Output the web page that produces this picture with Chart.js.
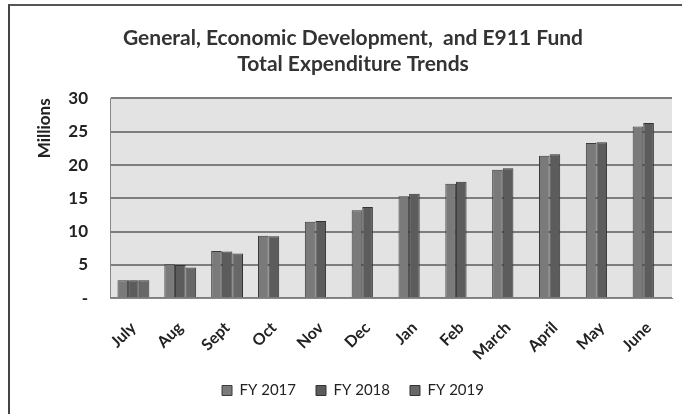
<!DOCTYPE html>
<html>
<head>
<meta charset="utf-8">
<script src="https://cdn.jsdelivr.net/npm/chart.js@4"></script>
<style>
    html, body { margin: 0; padding: 0; background: #fff; }
    #frame {
        position: absolute; left: 8px; top: 4px; width: 682px; height: 420px;
        border-left: 2px solid #444; border-top: 2px solid #555;
        box-sizing: border-box;
    }
    #wrap { position: absolute; left: 0; top: 0; width: 682px; height: 414px; }
</style>
</head>
<body>
<div id="frame"></div>
<div id="wrap"><canvas id="expChart"></canvas></div>
<script>
    // months and cumulative expenditure (millions)
    const months = ['July', 'Aug', 'Sept', 'Oct', 'Nov', 'Dec', 'Jan', 'Feb', 'March', 'April', 'May', 'June'];
    const fy2017 = [2.7, 5.1, 7.1, 9.4, 11.5, 13.2, 15.3, 17.2, 19.3, 21.4, 23.3, 25.8];
    const fy2018 = [2.7, 5.0, 7.0, 9.3, 11.6, 13.7, 15.7, 17.5, 19.5, 21.6, 23.4, 26.3];
    const fy2019 = [2.7, 4.6, 6.7, null, null, null, null, null, null, null, null, null];
    const yTicks = [0, 5, 10, 15, 20, 25, 30];

    const font = "Lato, 'Open Sans', sans-serif";

    // light gray plot background
    const plotBg = {
        id: 'plotBg',
        beforeDraw(chart) {
            const { ctx, chartArea: a } = chart;
            ctx.save();
            ctx.fillStyle = '#e3e3e3';
            ctx.fillRect(a.left, a.top, a.right - a.left, a.bottom - a.top);
            ctx.restore();
        }
    };

    const ctx = document.getElementById('expChart');
    const expChart = new Chart(ctx, {
        type: 'bar',
        data: {
            labels: months,
            datasets: [
                {
                    label: 'FY 2017',
                    data: fy2017,
                    backgroundColor: '#7a7a7a',
                    borderColor: '#3c3c3c',
                    borderWidth: 1
                },
                {
                    label: 'FY 2018',
                    data: fy2018,
                    backgroundColor: '#5c5c5c',
                    borderColor: '#333',
                    borderWidth: 1
                },
                {
                    label: 'FY 2019',
                    data: fy2019,
                    backgroundColor: '#686868',
                    borderColor: '#333',
                    borderWidth: 1
                }
            ]
        },
        options: {
            responsive: true,
            maintainAspectRatio: false,
            animation: false,
            layout: { padding: { top: 26, right: 10, bottom: 6, left: 34 } },
            datasets: {
                bar: { categoryPercentage: 0.68, barPercentage: 1.0 }
            },
            plugins: {
                title: {
                    display: true,
                    text: ['General, Economic Development,  and E911 Fund', 'Total Expenditure Trends'],
                    color: '#333',
                    font: { family: font, size: 21, weight: 'bold', lineHeight: 1.2 },
                    padding: { top: 0, bottom: 22 }
                },
                legend: {
                    position: 'bottom',
                    labels: {
                        color: '#222',
                        font: { family: font, size: 15 },
                        boxWidth: 10,
                        boxHeight: 10,
                        padding: 20
                    }
                },
                tooltip: { enabled: false }
            },
            scales: {
                x: {
                    afterFit(scale) { scale.height -= 13; },
                    grid: { display: false },
                    border: { color: '#888', width: 1 },
                    ticks: {
                        color: '#222',
                        font: { family: font, size: 16, weight: 'bold' },
                        maxRotation: 45,
                        minRotation: 45,
                        padding: 12
                    }
                },
                y: {
                    min: 0,
                    max: 30,
                    afterFit(scale) { scale.width = 76; },
                    afterBuildTicks(scale) {
                        scale.ticks = yTicks.map(v => ({ value: v }));
                    },
                    grid: { color: '#7d7d7d', lineWidth: 2, drawTicks: false },
                    border: { color: '#888', width: 1 },
                    ticks: {
                        color: '#222',
                        font: { family: font, size: 17, weight: 'bold' },
                        padding: 22,
                        callback: v => v === 0 ? '-' : v
                    },
                    title: {
                        display: true,
                        text: 'Millions',
                        align: 'end',
                        color: '#222',
                        font: { family: font, size: 17, weight: 'bold' },
                        padding: { top: 0, bottom: 0 }
                    }
                }
            }
        },
        plugins: [plotBg]
    });
</script>
</body>
</html>
